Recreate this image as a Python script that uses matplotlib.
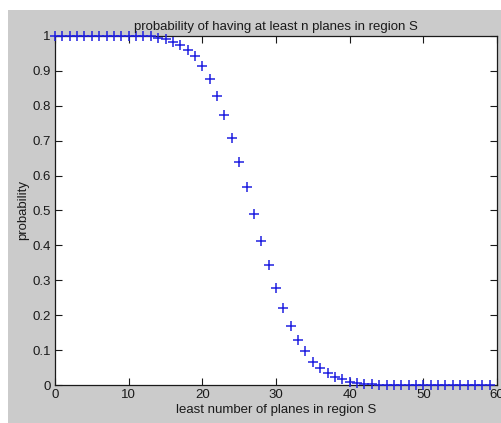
import numpy as np
import matplotlib
matplotlib.use("Agg")
import matplotlib.pyplot as plt
from matplotlib.patches import Rectangle

plt.rcParams['font.family'] = ['Liberation Sans', 'DejaVu Sans']

# least number of planes n and probability of having at least n planes in region S
n_planes = np.arange(0, 60)
prob = [1.0] * 14 + [
    0.995, 0.992, 0.984, 0.973, 0.960, 0.942, 0.914, 0.876, 0.829, 0.773,
    0.709, 0.640, 0.567, 0.490, 0.414, 0.345, 0.278, 0.222, 0.169, 0.129,
    0.097, 0.067, 0.048, 0.033, 0.022, 0.016, 0.010, 0.006, 0.003, 0.002,
] + [0.001] * 3 + [0.0] * 13

x_ticks = np.arange(0, 61, 10)
y_ticks = np.round(np.arange(0, 1.01, 0.1), 1)
y_tick_labels = ['0'] + [f'{v:.1f}' for v in y_ticks[1:-1]] + ['1']

W, H = 501, 423
fig = plt.figure(figsize=(W / 100, H / 100), dpi=100, facecolor='white')
# grey MATLAB-like figure area
fig.add_artist(Rectangle((8 / W, 0), 1 - 8 / W, 1 - 10 / H,
                         transform=fig.transFigure, facecolor='#cbcbcb',
                         edgecolor='none', zorder=-10))

ax = fig.add_axes([55 / W, 1 - 385 / H, (497 - 55) / W, (385 - 36) / H])
ax.set_zorder(1)
ax.set_facecolor('white')
ax.plot(n_planes, prob, linestyle='none', marker='+', color='#2020e0',
        markersize=7.5, markeredgewidth=1.1, clip_on=False, zorder=3)

ax.set_xlim(0, 60)
ax.set_ylim(0, 1)
ax.set_xticks(x_ticks)
ax.set_yticks(y_ticks)
ax.set_yticklabels(y_tick_labels)
ax.tick_params(direction='in', length=5, width=0.8, top=True, right=True,
               labelsize=9.5, colors='#1a1a1a', pad=3)
for s in ax.spines.values():
    s.set_linewidth(0.9)
    s.set_color('#1a1a1a')

ax.set_title('probability of having at least n planes in region S', fontsize=9.5,
             pad=4, color='#1a1a1a')
ax.set_xlabel('least number of planes in region S', fontsize=9.5, labelpad=2,
              color='#1a1a1a')
ax.set_ylabel('probability', fontsize=9.5, labelpad=2, color='#1a1a1a')

fig.savefig('out.png', dpi=100, facecolor=fig.get_facecolor())
